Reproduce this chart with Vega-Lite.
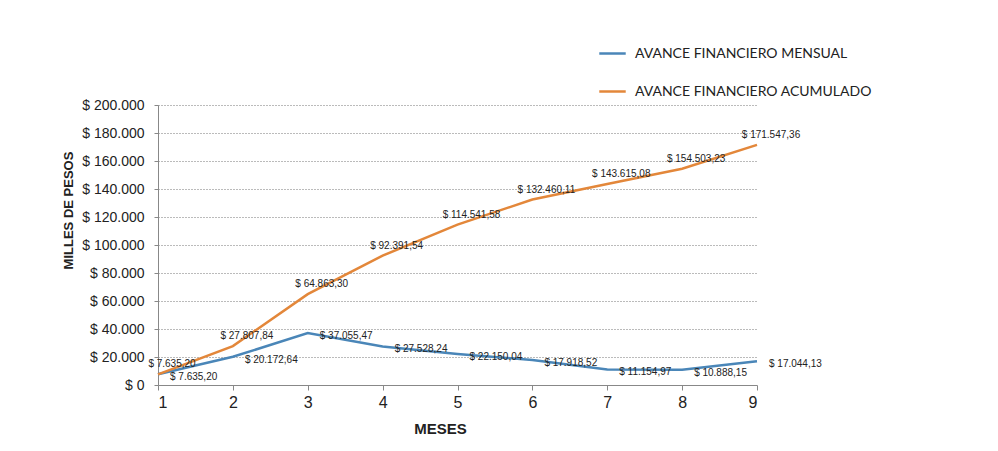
{
  "$schema": "https://vega.github.io/schema/vega-lite/v6.json",
  "width": 599,
  "height": 280,
  "autosize": {"type": "none"},
  "padding": {"left": 158, "top": 105, "right": 241, "bottom": 66},
  "background": "white",
  "config": {
    "locale": {"number": {"decimal": ",", "thousands": ".", "grouping": [3], "currency": ["$ ", ""]}},
    "view": {"stroke": null},
    "font": "Liberation Sans"
  },
  "data": {
    "values": [
      {"mes": 1, "serie": "AVANCE FINANCIERO MENSUAL", "valor": 7635.20},
      {"mes": 2, "serie": "AVANCE FINANCIERO MENSUAL", "valor": 20172.64},
      {"mes": 3, "serie": "AVANCE FINANCIERO MENSUAL", "valor": 37055.47},
      {"mes": 4, "serie": "AVANCE FINANCIERO MENSUAL", "valor": 27528.24},
      {"mes": 5, "serie": "AVANCE FINANCIERO MENSUAL", "valor": 22150.04},
      {"mes": 6, "serie": "AVANCE FINANCIERO MENSUAL", "valor": 17918.52},
      {"mes": 7, "serie": "AVANCE FINANCIERO MENSUAL", "valor": 11154.97},
      {"mes": 8, "serie": "AVANCE FINANCIERO MENSUAL", "valor": 10888.15},
      {"mes": 9, "serie": "AVANCE FINANCIERO MENSUAL", "valor": 17044.13},
      {"mes": 1, "serie": "AVANCE FINANCIERO ACUMULADO", "valor": 7635.20},
      {"mes": 2, "serie": "AVANCE FINANCIERO ACUMULADO", "valor": 27807.84},
      {"mes": 3, "serie": "AVANCE FINANCIERO ACUMULADO", "valor": 64863.30},
      {"mes": 4, "serie": "AVANCE FINANCIERO ACUMULADO", "valor": 92391.54},
      {"mes": 5, "serie": "AVANCE FINANCIERO ACUMULADO", "valor": 114541.58},
      {"mes": 6, "serie": "AVANCE FINANCIERO ACUMULADO", "valor": 132460.11},
      {"mes": 7, "serie": "AVANCE FINANCIERO ACUMULADO", "valor": 143615.08},
      {"mes": 8, "serie": "AVANCE FINANCIERO ACUMULADO", "valor": 154503.23},
      {"mes": 9, "serie": "AVANCE FINANCIERO ACUMULADO", "valor": 171547.36}
    ]
  },
  "layer": [
    {
      "mark": {"type": "line", "strokeWidth": 2.5},
      "encoding": {
        "x": {
          "field": "mes", "type": "quantitative",
          "scale": {"domain": [1, 9], "nice": false, "zero": false},
          "axis": {
            "values": [1, 2, 3, 4, 5, 6, 7, 8, 9], "format": "d", "tickCount": 20,
            "title": "MESES", "titleFontSize": 15, "titleFontWeight": "bold", "titleColor": "#222",
            "titleX": 282, "titleY": 43, "titleBaseline": "middle",
            "labelFontSize": 16, "labelColor": "#222", "labelPadding": 4,
            "domainColor": "#888", "tickColor": "#888", "tickSize": 5,
            "grid": false
          }
        },
        "y": {
          "field": "valor", "type": "quantitative",
          "scale": {"domain": [0, 200000], "nice": false},
          "axis": {
            "values": [0, 20000, 40000, 60000, 80000, 100000, 120000, 140000, 160000, 180000, 200000],
            "tickCount": 20,
            "format": "$,.0f", "labelOverlap": false,
            "title": "MILLES DE PESOS", "titleFontSize": 13, "titleFontWeight": "bold", "titleColor": "#222",
            "titleX": -90, "titleY": 105, "titleAngle": -90, "titleAlign": "center", "titleBaseline": "middle",
            "labelFontSize": 14, "labelColor": "#222", "labelPadding": 10,
            "domainColor": "#888", "tickColor": "#888", "tickSize": 4,
            "grid": true, "gridColor": "#777", "gridDash": [1, 2], "gridWidth": 1
          }
        },
        "color": {
          "field": "serie", "type": "nominal",
          "scale": {"domain": ["AVANCE FINANCIERO MENSUAL", "AVANCE FINANCIERO ACUMULADO"], "range": ["#4a86b8", "#e3873a"]},
          "legend": {
            "title": null, "orient": "none", "legendX": 440, "legendY": -66,
            "symbolType": "stroke", "symbolSize": 700, "symbolStrokeWidth": 2.5,
            "labelFont": "Lato", "labelFontSize": 14, "labelColor": "#222", "labelLimit": 400,
            "rowPadding": 16, "labelOffset": 8
          }
        }
      }
    },
    {
      "transform": [{"filter": "datum.serie === 'AVANCE FINANCIERO MENSUAL'"}],
      "mark": {"type": "text", "align": "left", "baseline": "middle", "dx": 12, "dy": 3, "fontSize": 10, "color": "#222"},
      "encoding": {
        "x": {"field": "mes", "type": "quantitative"},
        "y": {"field": "valor", "type": "quantitative"},
        "text": {"field": "valor", "type": "quantitative", "format": "$,.2f"}
      }
    },
    {
      "transform": [{"filter": "datum.serie === 'AVANCE FINANCIERO ACUMULADO'"}],
      "mark": {"type": "text", "align": "center", "baseline": "middle", "dx": 14, "dy": -10, "fontSize": 10, "color": "#222"},
      "encoding": {
        "x": {"field": "mes", "type": "quantitative"},
        "y": {"field": "valor", "type": "quantitative"},
        "text": {"field": "valor", "type": "quantitative", "format": "$,.2f"}
      }
    }
  ]
}
